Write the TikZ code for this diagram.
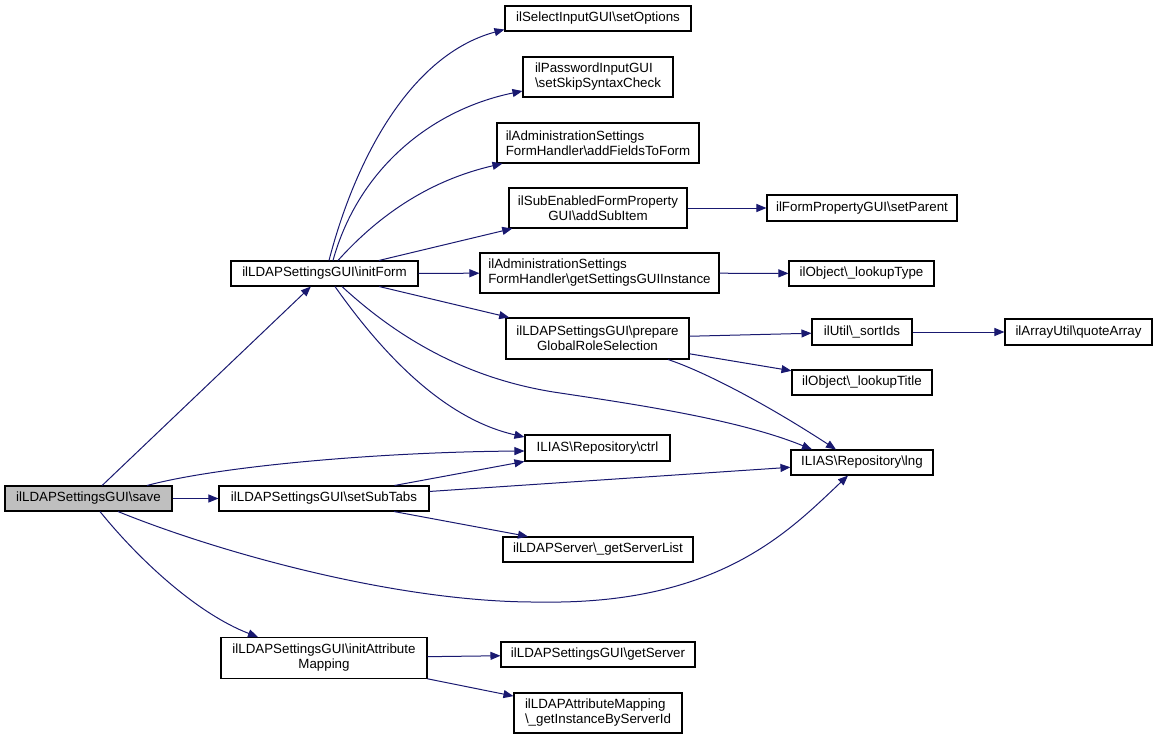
\documentclass[tikz,border=0pt]{standalone}
\usepackage{fontspec}
\setmainfont{Liberation Sans}
\usetikzlibrary{arrows.meta,calc}
\newcommand{\bsl}{\textbackslash}
\definecolor{edgeblue}{HTML}{191970}
\definecolor{hlgray}{HTML}{BFBFBF}
\tikzset{
  fn/.style={draw=black, line width=0.8pt, fill=white, inner sep=1pt,
    font=\fontsize{10}{11.25}\selectfont},
  bw/.style={minimum width=#1*0.75pt},
  bh/.style={minimum height=#1*0.75pt},
  call/.style={draw=edgeblue, line width=0.75pt,
    -{Triangle[length=7.5pt,width=6pt]}}
}
\begin{document}
\begin{tikzpicture}[x=0.75pt,y=-0.75pt]
\useasboundingbox (0,0) rectangle (1157,739);
% nodes
\node[fn,fill=hlgray,bw=167,bh=25] (save) at (88.5,498.5) {ilLDAPSettingsGUI\bsl save};
\node[fn,bw=187,bh=25] (initForm) at (324.5,273.5) {ilLDAPSettingsGUI\bsl initForm};
\node[fn,bw=210,bh=25] (setSubTabs) at (324,498.5) {ilLDAPSettingsGUI\bsl setSubTabs};
\node[fn,bw=206,bh=41,align=center] (initAttr) at (324,658) {ilLDAPSettingsGUI\bsl initAttribute\\Mapping};
\node[fn,bw=186,bh=25] (setOptions) at (598,18.5) {ilSelectInputGUI\bsl setOptions};
\node[fn,bw=150,bh=40,align=left] (setSkip) at (598,77) {ilPasswordInputGUI\\\bsl setSkipSyntaxCheck};
\node[fn,bw=202,bh=40,align=left] (addFields) at (598,143) {ilAdministrationSettings\\FormHandler\bsl addFieldsToForm};
\node[fn,bw=178,bh=40,align=center] (addSubItem) at (598,208) {ilSubEnabledFormProperty\\GUI\bsl addSubItem};
\node[fn,bw=239,bh=40,align=left] (getSGI) at (599.5,273) {ilAdministrationSettings\\FormHandler\bsl getSettingsGUIInstance};
\node[fn,bw=183,bh=41,align=center] (prepare) at (597.5,338.5) {ilLDAPSettingsGUI\bsl prepare\\GlobalRoleSelection};
\node[fn,bw=145,bh=26] (ctrl) at (597.5,448) {ILIAS\bsl Repository\bsl ctrl};
\node[fn,bw=190,bh=25] (getServerList) at (598,549.5) {ilLDAPServer\bsl\_getServerList};
\node[fn,bw=194,bh=25] (getServer) at (598,654.5) {ilLDAPSettingsGUI\bsl getServer};
\node[fn,bw=168,bh=40,align=left] (getInst) at (598,713) {ilLDAPAttributeMapping\\\bsl\_getInstanceByServerId};
\node[fn,bw=190,bh=26] (setParent) at (862,208) {ilFormPropertyGUI\bsl setParent};
\node[fn,bw=145,bh=25] (lookupType) at (861.5,273.5) {ilObject\bsl\_lookupType};
\node[fn,bw=100,bh=26] (sortIds) at (862,332) {ilUtil\bsl\_sortIds};
\node[fn,bw=147,bh=26] (quoteArray) at (1078.5,332) {ilArrayUtil\bsl quoteArray};
\node[fn,bw=140,bh=25] (lookupTitle) at (862,382.5) {ilObject\bsl\_lookupTitle};
\node[fn,bw=142,bh=25] (lng) at (862,462.5) {ILIAS\bsl Repository\bsl lng};
% straight edges
\draw[call] (save) -- (initForm);
\draw[call] (save) -- (setSubTabs);
\draw[call] (initForm) -- (addSubItem);
\draw[call] (initForm) -- (getSGI);
\draw[call] (initForm) -- (prepare);
\draw[call] (addSubItem) -- (setParent);
\draw[call] (getSGI) -- (lookupType);
\draw[call] (prepare) -- (sortIds);
\draw[call] (prepare) -- (lookupTitle);
\draw[call] (sortIds) -- (quoteArray);
\draw[call] (setSubTabs) -- (ctrl);
\draw[call] (setSubTabs) -- (lng);
\draw[call] (setSubTabs) -- (getServerList);
\draw[call] (initAttr) -- (getServer);
\draw[call] (initAttr) -- (getInst);
% curved edges
\draw[call] ($(initForm.north)+(4.5,0)$) .. controls (355,160) and (410,55) .. ($(setOptions.west)+(0,11)$);
\draw[call] ($(initForm.north)+(8.5,0)$) .. controls (358,170) and (430,110) .. ($(setSkip.west)+(0,14)$);
\draw[call] ($(initForm.north)+(13.5,0)$) .. controls (387,206) and (440,178) .. ($(addFields.south west)+(6,0)$);
\draw[call] ($(initForm.south)+(10.5,0)$) .. controls (384,356) and (445,419) .. ($(ctrl.west)+(0,-11)$);
\draw[call] ($(initForm.south)+(17.5,0)$) .. controls (400,340) and (470,380) .. (560,393)
  .. controls (640,405) and (740,420) .. ($(lng.north)+(-50,0)$);
\draw[call] ($(save.north)+(58.5,0)$) .. controls (220,466) and (380,452) .. ($(ctrl.west)+(0,3)$);
\draw[call] ($(save.south)+(29.5,0)$) .. controls (220,553) and (400,603) .. (540,602)
  .. controls (720,605) and (790,530) .. ($(lng.south)+(-14,0)$);
\draw[call] ($(save.south)+(11.5,0)$) .. controls (140,561) and (198,614) .. ($(initAttr.north)+(-66,0)$);
\draw[call] ($(prepare.south)+(70.5,0)$) .. controls (700,370) and (760,400) .. ($(lng.north)+(-26,0)$);
\end{tikzpicture}
\end{document}
